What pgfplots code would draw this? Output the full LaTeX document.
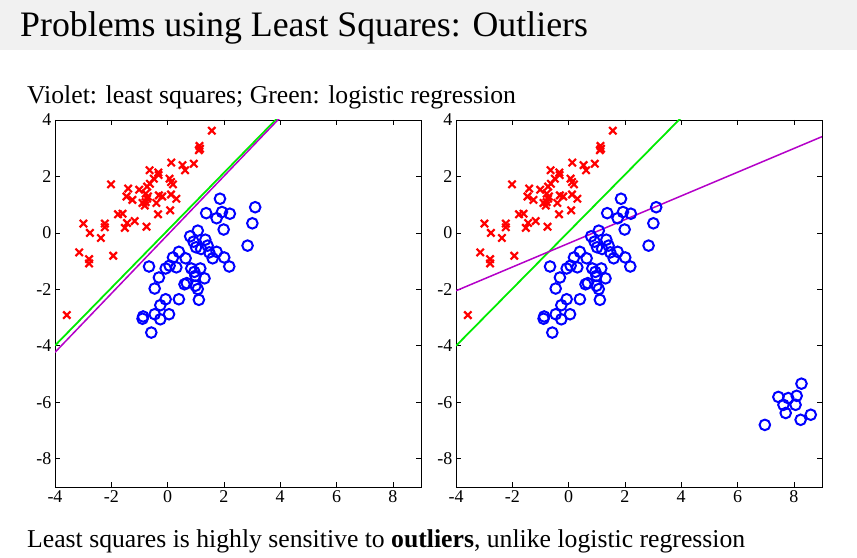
\documentclass[border=0pt]{standalone}
\usepackage{fontspec}
\setmainfont{Liberation Serif}
\usepackage{pgfplots}
\pgfplotsset{compat=1.18}
\usepackage{pgfplotstable}

\definecolor{lsviolet}{RGB}{180,0,200}
\definecolor{lrgreen}{RGB}{0,235,0}
\definecolor{barbg}{RGB}{241,241,241}

% class 1 (crosses)
\pgfplotstableread{
x y
1.57 3.62
1.13 3.08
1.11 2.93
1.15 2.98
0.93 2.45
0.53 2.40
0.62 2.22
0.13 2.49
-0.64 2.22
-0.33 2.14
-0.32 2.05
0.07 1.92
0.12 1.80
0.19 1.72
-0.49 1.92
-0.63 1.74
-0.73 1.64
-2.01 1.72
-1.40 1.57
-1.01 1.53
-1.46 1.29
-1.25 1.17
-0.78 1.39
-0.70 1.29
-0.73 1.21
-0.78 1.09
-0.89 1.06
-0.81 0.97
-0.40 1.06
-0.31 1.33
-0.19 1.29
0.12 1.36
0.31 1.21
0.09 0.80
-0.34 0.66
-1.76 0.66
-1.60 0.68
-1.44 0.35
-1.52 0.18
-1.17 0.42
-2.23 0.33
-2.23 0.20
-2.99 0.33
-2.76 0.00
-2.37 -0.18
-0.75 0.22
-3.14 -0.69
-2.79 -0.93
-2.79 -1.08
-1.93 -0.81
-3.58 -2.91
}\redpts

% class 2 (circles)
\pgfplotstableread{
x y
1.86 1.21
3.11 0.91
1.37 0.70
1.93 0.74
2.21 0.68
1.74 0.52
3.01 0.34
1.99 0.12
1.07 0.08
0.80 -0.12
2.84 -0.45
0.92 -0.31
1.34 -0.24
1.01 -0.51
1.19 -0.57
1.42 -0.45
1.48 -0.69
1.74 -0.67
1.60 -0.90
2.01 -0.87
2.19 -1.19
0.40 -0.67
0.64 -0.90
0.19 -0.87
0.07 -1.16
0.31 -1.22
-0.07 -1.26
-0.66 -1.19
0.84 -1.26
0.95 -1.38
1.16 -1.26
0.99 -1.52
1.31 -1.61
-0.31 -1.58
0.68 -1.78
0.60 -1.82
0.99 -1.87
1.07 -1.99
-0.46 -1.97
0.40 -2.35
1.11 -2.37
-0.07 -2.35
-0.26 -2.56
-0.46 -2.88
-0.87 -2.96
-0.89 -3.04
0.05 -2.88
-0.26 -3.06
-0.58 -3.53
}\bluepts

% extra class-2 points far from the rest
\pgfplotstableread{
x y
8.27 -5.34
7.45 -5.81
7.80 -5.85
8.10 -5.77
7.63 -6.09
8.06 -6.09
7.71 -6.38
8.24 -6.62
8.60 -6.44
6.97 -6.80
}\outlierpts

\pgfplotsset{
  scatterpanel/.style={
    scale only axis, width=366bp, height=367bp,
    xmin=-4, xmax=9, ymin=-9, ymax=4,
    xtick={-4,-2,0,2,4,6,8}, ytick={-8,-6,-4,-2,0,2,4},
    tick align=inside, major tick length=5bp,
    axis line style={line width=0.8bp},
    every tick/.style={black, line width=0.7bp},
    ticklabel style={font=\fontsize{18bp}{18bp}\selectfont},
    /pgf/number format/assume math mode=true,
    xtick pos=both, ytick pos=both,
  },
  crosses/.style={only marks, mark=x, mark size=5.2bp, red, line width=2.2bp},
  circles/.style={only marks, mark=o, mark size=5.3bp, blue, line width=2bp},
}

\begin{document}
\begin{tikzpicture}
\begin{scope}[x=1bp,y=1bp]
\path[use as bounding box] (0,0) rectangle (857,558);
\fill[white] (0,0) rectangle (857,558);
\fill[barbg] (0,508) rectangle (857,558);
\node[anchor=base west, inner sep=0pt, font=\fontsize{35.8bp}{40bp}\selectfont]
  at (20,521) {Problems using Least Squares: Outliers};
\node[anchor=base west, inner sep=0pt, font=\fontsize{25.7bp}{30bp}\selectfont]
  at (27,454) {Violet: least squares; Green: logistic regression};
\node[anchor=base west, inner sep=0pt, font=\fontsize{25.7bp}{30bp}\selectfont]
  at (27,10) {Least squares is highly sensitive to \textbf{outliers}, unlike logistic regression};
\end{scope}

% left panel: clean data
\begin{axis}[scatterpanel, at={(55bp,71bp)}, anchor=south west]
  \addplot[crosses] table {\redpts};
  \addplot[circles] table {\bluepts};
  \addplot[lrgreen, line width=1.8bp] coordinates {(-4,-3.99) (4.5,4.68)};
  \addplot[lsviolet, line width=1.5bp] coordinates {(-4,-4.23) (4.5,4.61)};
\end{axis}

% right panel: same data plus a distant cluster
\begin{axis}[scatterpanel, at={(456bp,71bp)}, anchor=south west]
  \addplot[crosses] table {\redpts};
  \addplot[circles] table {\bluepts};
  \addplot[circles] table {\outlierpts};
  \addplot[lrgreen, line width=1.8bp] coordinates {(-4,-4.0) (4.5,4.59)};
  \addplot[lsviolet, line width=1.5bp] coordinates {(-4,-2.05) (9,3.41)};
\end{axis}
\end{tikzpicture}
\end{document}
